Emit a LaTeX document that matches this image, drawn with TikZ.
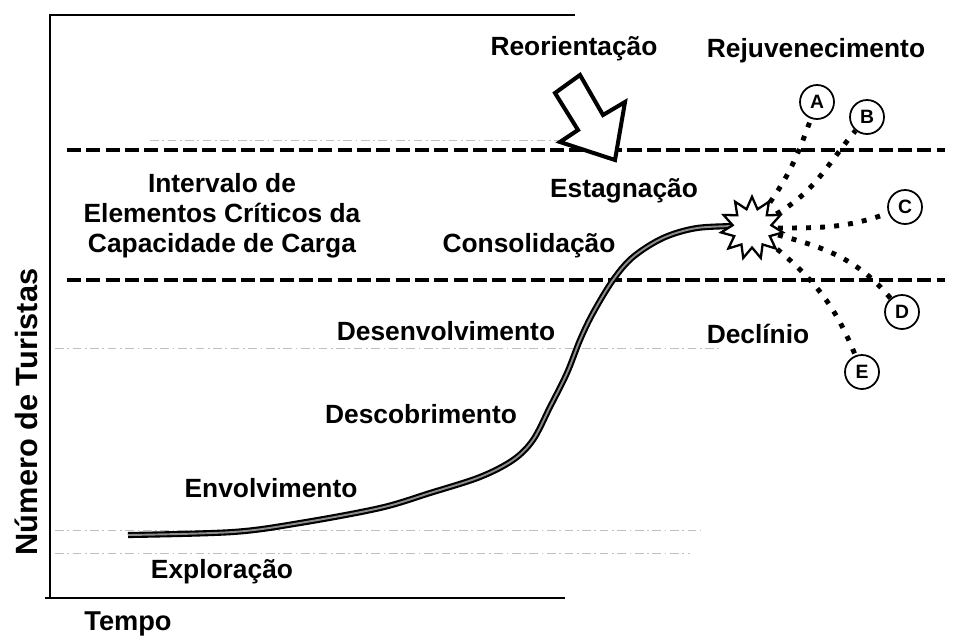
\documentclass[tikz,border=0pt]{standalone}
\usepackage{fontspec}
\setmainfont{Liberation Sans}
\usetikzlibrary{shapes.geometric}
\tikzset{
  stage/.style={font=\fontsize{15}{17}\selectfont\bfseries, inner sep=0pt, anchor=base},
  limit/.style={line width=2.3pt, dash pattern=on 8pt off 3pt},
  faint/.style={black!25, line width=0.5pt, dash pattern=on 5pt off 2pt on 1pt off 2pt},
  lifecycle/.style={line width=1.2pt, double=black!45, double distance=1.1pt},
  scenario/.style={line width=2.8pt, dash pattern=on 2.8pt off 5.2pt},
  option/.style={circle, draw, line width=1pt, minimum size=0.68cm, inner sep=0pt, fill=white, font=\fontsize{11}{12}\selectfont\bfseries},
  burst/.style={star, star points=11, star point ratio=1.6, draw, line width=1.3pt, fill=white, minimum size=1.25cm, inner sep=0pt}
}
\begin{document}
\begin{tikzpicture}[x=0.02cm,y=-0.02cm]
  \useasboundingbox (0,0) rectangle (969,639);
  % frame
  \draw[line width=1.6pt] (575,15) -- (50,15) -- (50,598);
  \draw[line width=1.6pt] (45,598) -- (565,598);
  % faint guide lines
  \draw[faint] (150,140) -- (565,140);
  \draw[faint] (55,348) -- (720,348);
  \draw[faint] (55,530) -- (700,530);
  \draw[faint] (55,553) -- (690,553);
  % carrying capacity limits
  \draw[limit] (67,150) -- (945,150);
  \draw[limit] (67,280) -- (945,280);
  % reorientation arrow
  \draw[line width=2.3pt, fill=white, line join=miter]
    (580,75) -- (555,93) -- (578,130) -- (560,142) -- (615,160) -- (625,102) -- (603,115) -- cycle;
  % life cycle curve
  \coordinate (start) at (128,535);
  \draw[lifecycle] plot[smooth, tension=0.55] coordinates {(start) (233,532) (300,523) (380,508)
    (430,493) (480,477) (513,460) (533,440) (550,407) (567,373) (580,340) (593,313)
    (613,280) (633,257) (663,238) (697,228) (740,226)};
  \node[burst] (burst) at (752,228) {};
  % future scenarios
  \node[option] (A) at (817,102) {A};
  \node[option] (B) at (867,117) {B};
  \node[option] (C) at (905,207) {C};
  \node[option] (D) at (902,312) {D};
  \node[option] (E) at (862,372) {E};
  \draw[scenario] (burst) to[out=55,in=250] (A);
  \draw[scenario] (burst) to[out=30,in=230] (B);
  \draw[scenario] (burst) to[out=0,in=200] (C);
  \draw[scenario] (burst) to[out=-15,in=130] (D);
  \draw[scenario] (burst) to[out=-40,in=112] (E);
  % stages
  \node[stage] (reorientacao) at (574,55) {Reorientação};
  \node[stage] (rejuvenescimento) at (816,57) {Rejuvenecimento};
  \node[stage, anchor=center, align=center] (intervalo) at (222,216)
    {Intervalo de\\Elementos Críticos da\\Capacidade de Carga};
  \node[stage] (estagnacao) at (624,197) {Estagnação};
  \node[stage] (consolidacao) at (529,252) {Consolidação};
  \node[stage] (desenvolvimento) at (446,340) {Desenvolvimento};
  \node[stage] (declinio) at (758,343) {Declínio};
  \node[stage] (descobrimento) at (421,423) {Descobrimento};
  \node[stage] (envolvimento) at (271,497) {Envolvimento};
  \node[stage] (exploracao) at (222,578) {Exploração};
  % axes
  \node[stage, font=\fontsize{15.5}{17}\selectfont\bfseries] (tempo) at (128,630) {Tempo};
  \node[stage, rotate=90, font=\fontsize{17.5}{20}\selectfont\bfseries] (turistas) at (37,412) {Número de Turistas};
\end{tikzpicture}
\end{document}
